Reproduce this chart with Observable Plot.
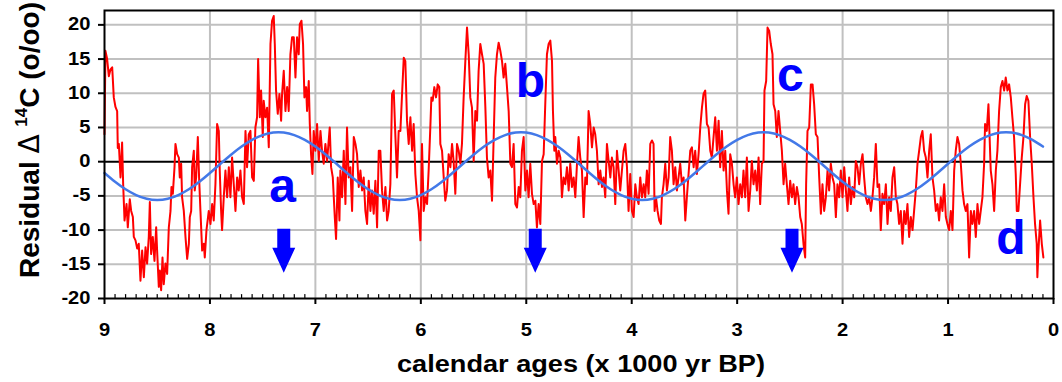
<!DOCTYPE html>
<html><head><meta charset="utf-8">
<script src="https://cdn.jsdelivr.net/npm/d3@7"></script>
<script src="https://cdn.jsdelivr.net/npm/@observablehq/plot@0.6"></script>
<style>
html,body{margin:0;padding:0;background:#fff;}
#chart svg{display:block;}
</style></head><body><div id="chart"></div>
<script>
// Residual delta-14C record (calendar age in years BP, value in per mil)
const redAge = [9000,8991,8975,8959,8943,8927,8912,8896,8880,8874,8864,8848,8833,8823,8810,8791,8779,8760,8747,8731,
8722,8706,8690,8675,8659,8643,8627,8611,8596,8580,8570,8558,8542,8526,8510,8501,8485,8475,8463,8450,
8438,8422,8406,8390,8374,8365,8352,8336,8327,8311,8295,8286,8273,8264,8248,8232,8216,8200,8191,8178,
8169,8153,8144,8131,8115,8103,8090,8074,8058,8049,8033,8011,7995,7979,7964,7948,7932,7916,7907,7894,
7885,7869,7853,7837,7821,7806,7790,7774,7758,7742,7727,7711,7695,7679,7663,7648,7632,7616,7600,7584,
7569,7553,7543,7527,7515,7499,7490,7474,7458,7442,7426,7411,7395,7385,7373,7357,7341,7325,7316,7300,
7284,7268,7253,7237,7221,7205,7189,7174,7158,7148,7132,7117,7104,7088,7079,7063,7053,7041,7028,7016,
7000,6984,6968,6952,6937,6921,6905,6889,6864,6851,6835,6816,6804,6788,6772,6763,6747,6731,6715,6700,
6684,6668,6652,6636,6620,6605,6589,6573,6557,6542,6526,6510,6494,6478,6463,6447,6431,6415,6399,6384,
6368,6352,6336,6320,6305,6289,6273,6257,6241,6226,6210,6194,6178,6162,6147,6131,6115,6099,6083,6068,
6052,6036,6020,6004,
5989,5973,5957,5941,5926,5910,5900,5888,5872,5856,5840,5825,5815,5799,5783,5768,5752,5736,5720,5704,
5689,5673,5657,5641,5625,5610,5594,5578,5562,5546,5531,5515,5499,5483,5467,5452,5436,5420,5404,5388,
5373,5357,5341,5325,5309,5294,5278,5262,5246,5230,5215,5199,5183,5167,5151,5136,5120,5104,5088,5072,
5057,5041,5025,5009,4993,4978,4962,4946,4930,4914,4899,4883,4867,4851,4835,4820,4804,4788,4772,4756,
4747,4734,4725,4709,4693,4677,4662,4646,4630,4614,4598,4583,4567,4551,4535,4519,4504,4488,4472,4456,
4440,4425,4409,4393,4377,4361,4346,4330,4314,4298,4282,4267,4251,4235,4219,4203,4188,4172,4156,4140,
4124,4109,4093,4077,4061,4045,4030,4014,3998,3982,3966,3951,3935,3919,3903,3887,3872,3856,3840,3824,
3808,3793,3783,3770,3755,3739,3723,3714,3698,3682,3666,3650,3635,3619,3603,3587,3571,3556,3540,3524,
3508,3492,3477,3461,3445,3429,3413,3398,3382,3366,3350,3334,3319,3303,3287,3271,3255,3240,3224,3208,
3192,3176,3161,3145,3129,3113,3097,3082,3066,3050,3034,
3019,3003,2987,2971,2955,2940,2924,2908,2892,2876,2861,2845,2829,2813,2797,2782,2766,2750,2741,2725,
2712,2696,2681,2665,2655,2639,2624,2608,2592,2576,2560,2545,2529,2513,2497,2481,2466,2450,2434,2418,
2402,2387,2371,2355,2346,2333,2317,2301,2285,2270,2254,2238,2222,2206,2191,2175,2159,2143,2128,2112,
2096,2080,2064,2049,2033,2017,2001,1985,1969,1954,1938,1922,1906,1890,1875,1859,1843,1827,1811,1796,
1780,1764,1748,1732,1717,1701,1685,1669,1653,1638,1622,1606,1590,1574,1559,1543,1527,1511,1495,1480,
1464,1448,1432,1416,1401,1385,1369,1353,1337,1322,1306,1290,1274,1258,1243,1227,1211,1195,1179,1164,
1148,1132,1116,1100,1085,1069,1053,1037,1021,1006,990,974,958,942,927,911,895,879,863,848,
832,816,800,784,769,753,737,721,705,690,674,658,649,633,617,608,595,579,563,547,
532,516,500,484,468,453,437,421,405,390,374,358,348,333,317,301,285,269,254,238,
222,206,190,175,159,153,143,127,111,96];

const redValue = [4,16.2,15,12.5,13.5,13.8,9.4,8,7.4,2,2.6,-2.3,2.8,-3.3,-8.6,-6.2,-9.6,-5.5,-7.2,-8.1,
-11,-11.5,-12.7,-12,-17.4,-13,-16.9,-12.5,-14.9,-11,-5.9,-13.5,-11,-14.5,-9.6,-13,-18.3,-15.9,-18.8,-14,
-17.9,-14.9,-16.4,-9.6,-7.2,-3.7,-4.7,-0.8,2.6,1.1,0.6,-2.3,-0.3,-5.2,-7.2,-11,-14.2,-12,-8.1,-7.2,
-0.8,1.6,-4.2,-2.3,3.6,-2.3,-7.2,-13,-12,-14,-10,-7.2,-9.1,-6.2,-8.6,-3.3,5.5,4.5,-1.3,-7.2,
-10,-5.2,-1.3,-5.2,-0.8,-5.2,0.6,-3.3,-7.2,-2.3,-4.2,-1.3,-5.2,-6.2,4.5,-0.8,4,4.5,-2.3,-2.8,
5,6.5,15,6.5,10.4,3.6,8.9,6.5,7.9,2.1,17.2,20.6,21.3,17.2,10.4,7,9.9,6,9.9,13.3,
7.4,10.9,7.4,15.7,18.2,18.2,12.3,18.2,15.7,20.1,20.6,17.2,9.4,10.9,7.4,11.8,5.5,1.1,-1.8,4.5,
1.6,5.5,0.1,4.5,1.6,-0.3,2.6,0.1,5,-0.8,-2.3,-8.1,-11.3,-2.3,-8.6,-1.3,-5.2,1.6,-6.2,5,
-2.3,-0.8,-7.2,3.6,2.6,1.1,-3.7,-1.3,-4.2,-2.3,-7.2,-9.1,-2.8,-7.2,-4.2,-7.6,-2.8,-9.6,1.6,1.6,
-4.2,-7.2,-3.7,-8.6,-7.2,-3.3,9.9,10.4,3.6,-2.3,4.5,4.5,9.9,15.2,14.7,6,2.6,6.5,1.6,5.5,
-1.8,-5.2,-7.2,-11.5,
2.6,-7.2,-5.2,-6.2,-1.3,5,9.4,8.9,10.9,9.4,11.3,10.9,2.6,1.6,-2.3,-5.7,-4.2,1.1,-0.8,2.6,
0.1,-4.7,2.6,1.6,-0.3,2.6,9.4,14.7,19.6,15.7,9.4,7.9,0.1,7.4,6,13.3,17.2,15.7,14.3,7.9,
0.6,-2.3,-1.3,-5.7,3.6,12.3,15.7,17.4,16.2,14.7,12.3,14.3,10.9,7.4,-0.3,-0.8,2.6,-6.2,-6.7,-3.7,
-5.2,1.6,3.6,-4.2,-1.3,-5.2,-0.3,-4.7,-6.2,-5.7,-9.6,-6.2,-9.1,0.1,1.1,8.4,15.7,17.2,17.7,14.7,
7.4,1.6,3.6,-0.3,1.6,0.6,-5.2,-2.3,-3.3,-0.8,-4.2,-0.3,-3.7,-2.3,-5.2,-0.3,3.6,0.6,-1.3,-8.1,
-2.3,-3.3,7.4,5.5,2.1,5,4,1.6,-3.3,-1.3,-3.7,-2.3,-5.2,2.6,0.1,-2.3,0.6,-0.8,-6.2,1.6,
-1.3,-4.2,-1.3,1.6,2.6,-0.8,-7.2,-1.8,-7.2,-8.1,-3.3,-5.2,-6.2,-2.3,-5.2,-3.3,-5.2,-1.3,-4.7,2.6,
3.1,2.6,-7.2,-5.2,-7.2,-8.6,-9.1,-5.2,-3.3,-0.3,-4.2,-2.3,3.6,1.6,-3.3,-0.8,-4.2,-2.3,-0.3,-3.3,
-2.3,-8.6,-5.2,-1.8,1.6,2.1,-0.8,1.6,-1.8,1.1,5,7.9,9.9,10.4,5.5,5,1.6,0.6,3.6,6.5,
1.6,6,-0.8,4.5,-1.3,1.6,-4.2,-7.6,1.1,-0.3,-3.3,
-5.2,-2.3,-6.2,-3.3,-5.2,-1.3,-5.2,0.6,-7.2,-4.2,0.1,-3.3,-1.3,-4.2,0.6,-6.2,-0.3,0.1,10.4,11.8,
19.6,19.1,17.2,15.7,8.4,7.4,3.6,7.4,4.5,1.6,-3.3,-0.3,-3.3,-6.2,-2.8,-5.2,-3.3,-6.2,-3.7,-5.2,
-8.1,-9.1,-12,-14,-3.3,4.5,5,11.3,11.3,8.4,4,3.6,-2.3,-7.6,-3.3,-7.2,-5.2,-1.3,-4.2,-0.3,
-2.3,-3.3,-8.1,-3.3,-5.2,-1.3,-5.2,-0.8,-4.2,-7.2,-2.3,-6.2,-3.7,-5.2,0.1,-0.8,-3.3,-0.3,1.1,-2.3,
-5.2,-6.2,-5.2,-7.2,-5.2,-2.3,2.6,-3.7,-3.3,-10,-4.7,-6.2,-3.3,-9.1,-5.2,-7.2,-2.3,-0.8,-5.2,-6.2,
-9.1,-7.2,-12,-7.2,-9.1,-6.2,-11,-8.1,-10,-7.2,-4.2,-0.3,1.6,3.6,4.5,1.6,0.6,-2.3,1.6,4,
-2.3,-4.2,-7.2,-6.2,-8.6,-5.2,-7.2,-3.3,-8.1,-9.1,-10,-7.2,-10,-1.3,1.6,3.6,2.6,-0.3,-4.2,-6.2,
-7.2,-6.2,-14,-7.2,-9.1,-7.2,-11,-6.2,-9.1,-7.2,-5.2,-0.3,5.5,4.5,8.4,4.5,-1.3,-3.3,-7.2,-1.3,
1.6,7.4,10.9,11.8,10.4,12.3,10.4,11.3,9.4,6.5,3.6,-1.8,-7.2,-7.2,-3.3,0.6,3.6,8.4,9.6,8.9,
3.6,-0.3,-5.2,-9.1,-12,-16.9,-13,-8.6,-12,-14];

// Fitted ~2300-yr cycle (blue curve)
const sineAge = [9000,8900,8800,8700,8600,8500,8400,8300,8200,8100,8000,7900,7800,7700,7600,7500,7400,7300,7200,7100,
7000,6900,6800,6700,6600,6500,6400,6300,6200,6100,6000,5900,5800,5700,5600,5500,5400,5300,5200,5100,
5000,4900,4800,4700,4600,4500,4400,4300,4200,4100,4000,3900,3800,3700,3600,3500,3400,3300,3200,3100,
3000,2900,2800,2700,2600,2500,2400,2300,2200,2100,2000,1900,1800,1700,1600,1500,1400,1300,1200,1100,
1000,900,800,700,600,500,400,300,200,100];
const sineValue = [-1.65,-2.93,-4.03,-4.88,-5.42,-5.60,-5.42,-4.88,-4.03,-2.93,-1.65,-0.31,1.01,2.21,3.19,3.89,4.26,4.26,3.89,3.19,
2.21,1.01,-0.31,-1.65,-2.93,-4.03,-4.88,-5.42,-5.60,-5.42,-4.88,-4.03,-2.93,-1.65,-0.31,1.01,2.21,3.19,3.89,4.26,
4.26,3.89,3.19,2.21,1.01,-0.31,-1.65,-2.93,-4.03,-4.88,-5.42,-5.60,-5.42,-4.88,-4.03,-2.93,-1.65,-0.31,1.01,2.21,
3.19,3.89,4.26,4.26,3.89,3.19,2.21,1.01,-0.31,-1.65,-2.93,-4.03,-4.88,-5.42,-5.60,-5.42,-4.88,-4.03,-2.93,-1.65,
-0.31,1.01,2.21,3.19,3.89,4.26,4.26,3.89,3.19,2.21];

const xTicks = [9,8,7,6,5,4,3,2,1,0];
const yTicks = [-20,-15,-10,-5,0,5,10,15,20];
const eventLabels = ["a","b","c","d"];
const eventLabelAge = [7.31, 4.96, 2.495, 0.405];
const eventLabelValue = [-5.95, 9.4, 10.4, -13.5];
const arrowAge = [7.30, 4.915, 2.48];
const arrowTopValue = [-9.8, -9.8, -9.8];

const redData = redAge.map((a, i) => ({age: a / 1000, v: redValue[i]}));
const sineData = sineAge.map((a, i) => ({age: a / 1000, v: sineValue[i]}));
const labelData = eventLabels.map((t, i) => ({t, age: eventLabelAge[i], v: eventLabelValue[i]}));
const arrowData = arrowAge.map((a, i) => ({age: a, v: arrowTopValue[i]}));
const minorTicks = d3.range(1, 90).filter(k => k % 10 !== 0).map(k => k / 10);

const arrowSymbol = {draw(ctx) {
  ctx.moveTo(-6.5, 0); ctx.lineTo(6.5, 0); ctx.lineTo(6.5, 19); ctx.lineTo(11.5, 19);
  ctx.lineTo(0, 44); ctx.lineTo(-11.5, 19); ctx.lineTo(-6.5, 19); ctx.closePath();
}};
const tickShape = {draw(ctx, l) { ctx.moveTo(0, 0); ctx.lineTo(0, -l); }};

const plot = Plot.plot({
  width: 1062, height: 382,
  marginLeft: 104, marginRight: 9, marginTop: 10, marginBottom: 84,
  style: {fontFamily: "'Liberation Sans', Arial, sans-serif", fontWeight: "bold", fontSize: "17.5px", color: "#000", background: "#fff", overflow: "visible"},
  x: {domain: [9, 0]},
  y: {domain: [-20, 22.1]},
  marks: [
    Plot.ruleX(xTicks.filter(d => d !== 9 && d !== 0), {stroke: "#c0c0c0", strokeWidth: 2}),
    Plot.ruleY(yTicks.filter(d => d !== -20 && d !== 0), {stroke: "#c0c0c0", strokeWidth: 2}),
    Plot.ruleY([0], {stroke: "#000", strokeWidth: 2}),
    Plot.line(redData, {x: "age", y: "v", stroke: "#ff0000", strokeWidth: 2}),
    Plot.line(sineData, {x: "age", y: "v", stroke: "#4379e8", strokeWidth: 2.5, curve: "natural"}),
    Plot.dot(arrowData, {x: "age", y: "v", symbol: arrowSymbol, fill: "#0000ff", stroke: "none"}),
    Plot.text(labelData, {x: "age", y: "v", text: "t", fontSize: 48, fontWeight: "bold", fill: "#0000ff", lineAnchor: "bottom"}),
    Plot.frame({stroke: "#000", strokeWidth: 2}),
    Plot.vector(minorTicks, {x: d => d, y: () => -20, length: 4, anchor: "start", shape: tickShape, stroke: "#000", strokeWidth: 1.2}),
    Plot.axisX({ticks: xTicks, tickSize: 6, tickPadding: 19, strokeWidth: 2, label: null, tickFormat: d => String(d)}),
    Plot.axisY({ticks: yTicks, tickSize: 6, tickPadding: 8, strokeWidth: 2, label: null, tickFormat: d => String(d)})
  ]
});
document.getElementById("chart").appendChild(plot);

const svg = d3.select(plot);
// horizontally stretched tick labels, as in the reference
svg.selectAll('g[aria-label="x-axis tick label"] text, g[aria-label="y-axis tick label"] text')
  .attr("transform", function() { return (this.getAttribute("transform") || "") + " scale(1.15,1)"; });

svg.append("text")
  .attr("x", 581).attr("y", 372)
  .attr("text-anchor", "middle")
  .attr("font-size", 23).attr("font-weight", "bold")
  .attr("textLength", 368).attr("lengthAdjust", "spacingAndGlyphs")
  .text("calendar ages (x 1000 yr BP)");

const yt = svg.append("text")
  .attr("transform", "translate(39,140) rotate(-90)")
  .attr("text-anchor", "middle")
  .attr("font-size", 28).attr("font-weight", "bold");
yt.append("tspan").text("Residual ");
yt.append("tspan").attr("font-weight", "normal").attr("font-family", "DejaVu Sans").text("Δ");
yt.append("tspan").text(" ");
yt.append("tspan").attr("font-size", 17).attr("dy", -12).text("14");
yt.append("tspan").attr("dy", 12).text("C (o/oo)");
</script></body></html>
